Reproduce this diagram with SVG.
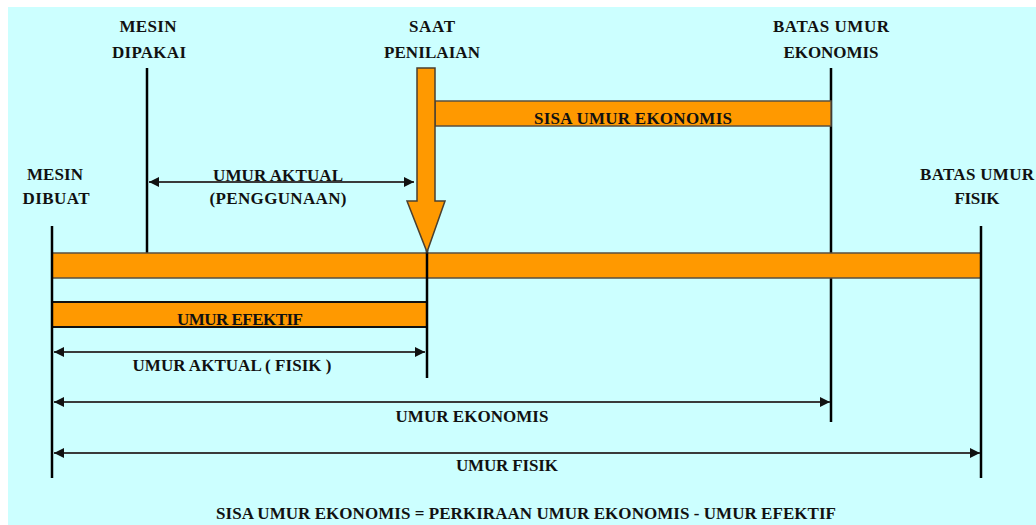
<svg xmlns="http://www.w3.org/2000/svg" width="1036" height="525" viewBox="0 0 1036 525">
<defs>
<style>
text{font-family:"Liberation Serif","DejaVu Serif",serif;font-weight:bold;font-size:17px;fill:#111;text-anchor:middle}
.vl{stroke:#000;stroke-width:2.5;fill:none}
.dim{stroke:#3a3a3a;stroke-width:2;fill:none}
.bar{fill:#FF9900;stroke:#5a5040;stroke-width:1.5}
</style>
<marker id="ah" viewBox="0 0 10 10" refX="10" refY="5" markerWidth="10" markerHeight="10" markerUnits="userSpaceOnUse" orient="auto-start-reverse">
<path d="M0,0 L10,5 L0,10 Z" fill="#111"/>
</marker>
</defs>
<rect x="0" y="0" width="1036" height="525" fill="#ffffff"/>
<rect x="8" y="7" width="1028" height="518" fill="#CCFFFF"/>

<g id="back-lines">
<line class="vl" x1="147" y1="68" x2="147" y2="253"/>
<line class="vl" x1="831" y1="68" x2="831" y2="422"/>
</g>

<g id="bars">
<rect id="sisa-bar" class="bar" x="435" y="101" width="396" height="25"/>
<rect id="main-bar" class="bar" x="52" y="253" width="929" height="25"/>
<rect id="efektif-bar" x="52" y="302" width="375" height="25" fill="#FF9900" stroke="#111" stroke-width="2"/>
</g>

<g id="connectors">
<line class="vl" x1="52" y1="226" x2="52" y2="478"/>
<line class="vl" x1="427" y1="250" x2="427" y2="378"/>
<line class="vl" x1="981" y1="226" x2="981" y2="478"/>
<line class="dim" x1="149" y1="182" x2="414" y2="182" marker-start="url(#ah)" marker-end="url(#ah)"/>
<line class="dim" x1="54" y1="352" x2="425" y2="352" marker-start="url(#ah)" marker-end="url(#ah)"/>
<line class="dim" x1="54" y1="402" x2="830" y2="402" marker-start="url(#ah)" marker-end="url(#ah)"/>
<line class="dim" x1="54" y1="453" x2="980" y2="453" marker-start="url(#ah)" marker-end="url(#ah)"/>
</g>

<g id="penilaian-arrow">
<polygon points="417,68 435,68 435,201 445,201 427,252 407,201 417,201" fill="#FF9900" stroke="#4a4030" stroke-width="1.5" stroke-linejoin="miter"/>
</g>

<g id="node-mesin-dipakai">
<text x="148" y="32" textLength="57">MESIN</text>
<text x="149" y="58" textLength="74">DIPAKAI</text>
</g>
<g id="node-saat-penilaian">
<text x="432" y="32" textLength="46">SAAT</text>
<text x="432" y="58" textLength="96">PENILAIAN</text>
</g>
<g id="node-batas-ekonomis">
<text x="831" y="32" textLength="116">BATAS UMUR</text>
<text x="831" y="58" textLength="95">EKONOMIS</text>
</g>
<g id="node-mesin-dibuat">
<text x="55" y="180" textLength="56">MESIN</text>
<text x="56" y="204" textLength="67">DIBUAT</text>
</g>
<g id="node-batas-fisik">
<text x="977" y="180" textLength="114">BATAS UMUR</text>
<text x="977" y="204" textLength="45">FISIK</text>
</g>
<g id="labels">
<text x="633" y="124" textLength="198">SISA UMUR EKONOMIS</text>
<text x="278" y="181" textLength="130">UMUR AKTUAL</text>
<text x="278" y="204" textLength="137">(PENGGUNAAN)</text>
<text x="240" y="325" textLength="126">UMUR EFEKTIF</text>
<text x="232" y="371" textLength="199">UMUR AKTUAL ( FISIK )</text>
<text x="472" y="422" textLength="153">UMUR EKONOMIS</text>
<text x="507" y="471" textLength="102">UMUR FISIK</text>
<text x="526" y="519" textLength="620">SISA UMUR EKONOMIS = PERKIRAAN UMUR EKONOMIS - UMUR EFEKTIF</text>
</g>
</svg>
